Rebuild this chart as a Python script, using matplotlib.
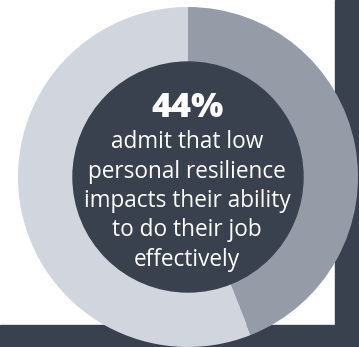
import matplotlib.pyplot as plt
from matplotlib.patches import Rectangle, Circle

# Share of respondents
labels = ['Impacted', 'Not impacted']
values = [44, 56]
colors = ['#959ca8', '#d0d5de']
headline = '44%'
caption = 'admit that low\npersonal resilience\nimpacts their ability\nto do their job\neffectively'

plt.rcParams['font.family'] = ['Open Sans', 'DejaVu Sans']

fig = plt.figure(figsize=(3.59, 3.47), dpi=100)
ax = fig.add_axes([0, 0, 1, 1])

# dark frame behind the ring (right edge and bottom strip)
ax.add_patch(Rectangle((335, 22), 24, 325, color='#38414d', zorder=0))
ax.add_patch(Rectangle((0, 0), 359, 22, color='#38414d', zorder=0))

ax.pie(values, colors=colors, startangle=90, counterclock=False,
       center=(188, 170), radius=170,
       wedgeprops=dict(width=55, edgecolor='none'))

# filled centre
ax.add_patch(Circle((188, 170), 115, color='#38414d', zorder=3))

ax.text(188, 239, headline, ha='center', va='center', color='white',
        fontsize=24.5, fontweight='heavy', zorder=4)
ax.text(187, 146, caption, ha='center', va='center', color='white',
        fontsize=16.3, linespacing=1.3, zorder=4)

ax.set_xlim(0, 359)
ax.set_ylim(0, 347)
ax.set_aspect('equal')
ax.axis('off')

plt.savefig('out.png', dpi=100)
